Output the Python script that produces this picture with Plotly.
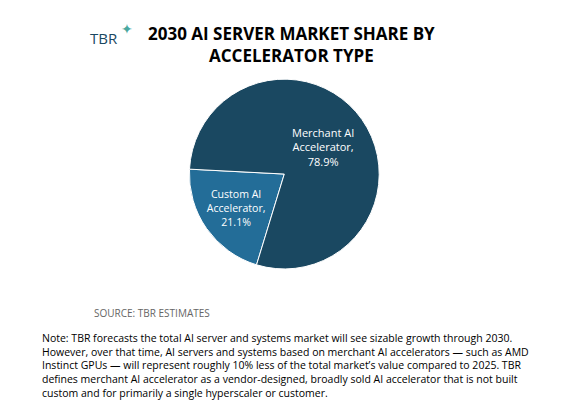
import plotly.graph_objects as go

categories = ["Custom AI<br>Accelerator,", "Merchant AI<br>Accelerator,"]
values = [21.1, 78.9]
colors = ["#236d98", "#1a4861"]

fig = go.Figure(go.Pie(
    labels=categories, values=values, sort=False, direction="clockwise", rotation=197,
    marker=dict(colors=colors, line=dict(color="white", width=1)),
    texttemplate="%{label}<br>%{percent:.1%}", textposition="inside",
    insidetextorientation="horizontal",
    textfont=dict(color="white", size=11, family="Open Sans"),
    domain=dict(x=[0.321, 0.657], y=[0.357, 0.825]), showlegend=False, hoverinfo="skip"))

W, H = 565, 406
def px(x, y): return dict(x=x / W, y=1 - y / H, xref="paper", yref="paper")
ann = [
    dict(**px(283, 37), text="<b>2030 AI SERVER MARKET SHARE BY<br>ACCELERATOR TYPE</b>",
         showarrow=False, font=dict(size=17, color="black", family="Open Sans"), xanchor="center", yanchor="middle"),
    dict(**px(80, 30), text="TBR", showarrow=False, font=dict(size=15, color="#1a4861", family="Open Sans"),
         xanchor="left", yanchor="middle"),
    dict(**px(119, 20), text="✦", showarrow=False, font=dict(size=14, color="#4aa8a0"), xanchor="center", yanchor="middle"),
    dict(**px(84, 305), text="SOURCE: TBR ESTIMATES", showarrow=False,
         font=dict(size=10, color="#666666", family="Open Sans"), xanchor="left", yanchor="middle"),
    dict(**px(32, 357), align="left",
         text="Note: TBR forecasts the total AI server and systems market will see sizable growth through 2030.<br>"
              "However, over that time, AI servers and systems based on merchant AI accelerators — such as AMD<br>"
              "Instinct GPUs — will represent roughly 10% less of the total market’s value compared to 2025. TBR<br>"
              "defines merchant AI accelerator as a vendor-designed, broadly sold AI accelerator that is not built<br>"
              "custom and for primarily a single hyperscaler or customer.",
         showarrow=False, font=dict(size=10.5, color="black", family="Open Sans"), xanchor="left", yanchor="middle"),
]
fig.update_layout(width=W, height=H, margin=dict(l=0, r=0, t=0, b=0),
                  paper_bgcolor="white", annotations=ann)
fig.write_html("out.html")
